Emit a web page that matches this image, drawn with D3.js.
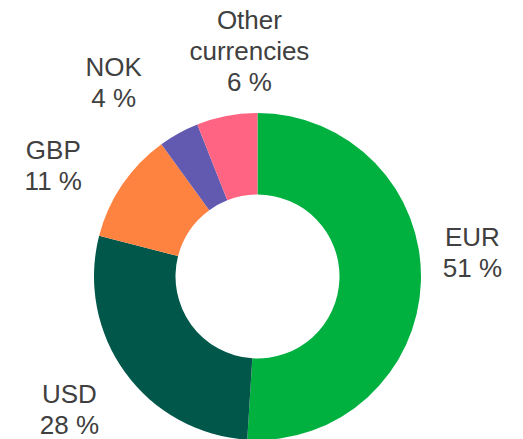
<!DOCTYPE html>
<html lang="en">
<head>
    <meta charset="UTF-8">
    <title>Currency split</title>
    <script src="https://d3js.org/d3.v7.min.js"></script>
    <style>
        html, body {
            margin: 0;
            padding: 0;
            background: #fff;
        }
    </style>
</head>
<body>
    <div id="chart"></div>

    <script>
        // Data
        const currencies = ["EUR", "USD", "GBP", "NOK", "Other currencies"];
        const shares = [51, 28, 11, 4, 6];
        const colors = ["#00b140", "#00574a", "#ff8340", "#625ab0", "#ff6482"];

        const width = 523;
        const height = 439;
        const cx = 257.5;
        const cy = 276.5;
        const outerR = 163.5;
        const innerR = 82;

        // small nudges so labels sit where the original put them
        const labelNudge = [[-15, -32], [-2, -2], [-14, 18], [-33, 7], [35, 0]];

        const data = currencies.map((c, i) => ({ name: c, value: shares[i], color: colors[i], i: i }));

        const pie = d3.pie()
            .value(d => d.value)
            .sort(null);

        const arc = d3.arc()
            .innerRadius(innerR)
            .outerRadius(outerR);

        const labelArc = d3.arc()
            .innerRadius(230)
            .outerRadius(230);

        const svg = d3.select("#chart").append("svg")
            .attr("width", width)
            .attr("height", height)
            .attr("viewBox", [0, 0, width, height]);

        const g = svg.append("g")
            .attr("transform", `translate(${cx},${cy})`);

        const arcs = pie(data);

        g.selectAll("path")
            .data(arcs)
            .join("path")
            .attr("d", arc)
            .attr("fill", d => d.data.color);

        // labels: name (split into lines) + percentage
        const fontSize = 26;
        const lineH = 31;
        const capH = 18.6;

        arcs.forEach(d => {
            const lines = d.data.name.split(" ");
            lines.push(d.data.value + " %");
            const [x0, y0] = labelArc.centroid(d);
            const nx = x0 + labelNudge[d.data.i][0];
            const ny = y0 + labelNudge[d.data.i][1];
            const blockH = capH + (lines.length - 1) * lineH;
            const firstBase = ny - blockH / 2 + capH;

            const t = g.append("text")
                .attr("text-anchor", "middle")
                .attr("font-family", "'Liberation Sans', Arial, sans-serif")
                .attr("font-size", fontSize)
                .attr("fill", "#404040");

            t.selectAll("tspan")
                .data(lines)
                .join("tspan")
                .attr("x", nx)
                .attr("y", (l, k) => firstBase + k * lineH)
                .text(l => l);
        });
    </script>
</body>
</html>
